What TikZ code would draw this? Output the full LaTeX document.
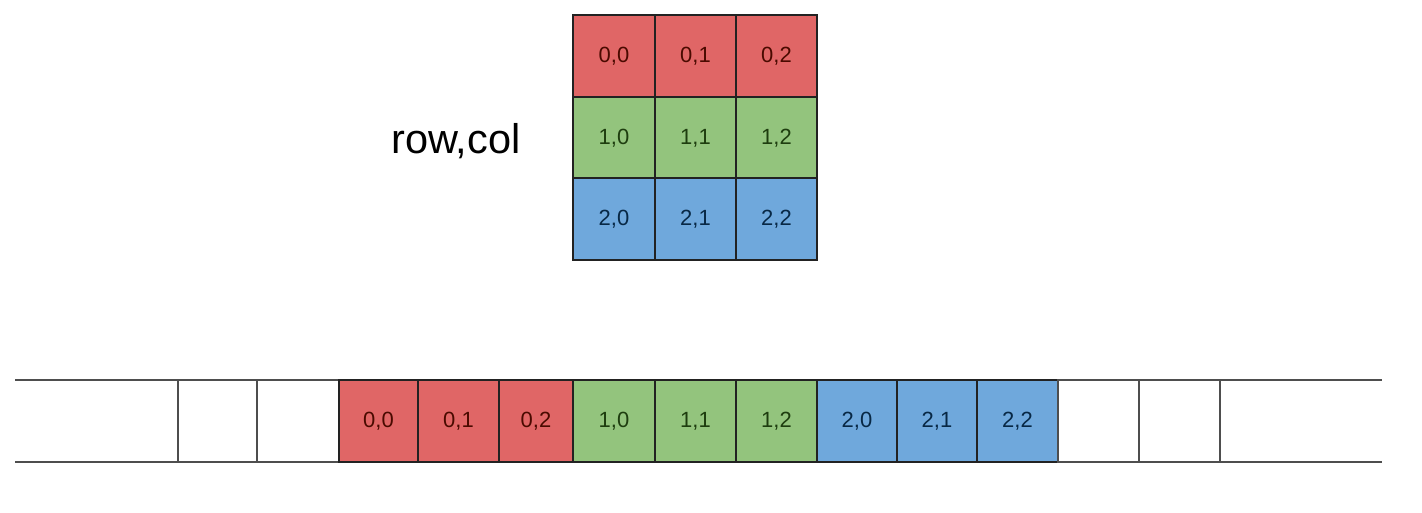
\documentclass[tikz,border=0pt]{standalone}
\usepackage{fontspec}
\setmainfont{Liberation Sans}
\definecolor{cred}{HTML}{E06666}
\definecolor{cgreen}{HTML}{93C47D}
\definecolor{cblue}{HTML}{6FA8DC}
\definecolor{tred}{HTML}{4A0A00}
\definecolor{tgreen}{HTML}{1E3D0F}
\definecolor{tblue}{HTML}{082845}
\definecolor{edge}{HTML}{222222}
\begin{document}
\begin{tikzpicture}[x=1pt,y=-1pt,
  cell/.style={draw=edge,line width=2pt,minimum height=82pt,inner sep=0pt,font=\fontsize{22}{25}\selectfont},
  rcell/.style={cell,fill=cred,text=tred},
  gcell/.style={cell,fill=cgreen,text=tgreen},
  bcell/.style={cell,fill=cblue,text=tblue},
  wcell/.style={cell,draw=edge!80,fill=white},
  rail/.style={draw=edge!80,line width=2.5pt}]
\useasboundingbox (0,0) rectangle (1422,513);
% top grid
\foreach \c/\x/\w in {0/614/81.5,1/695.5/81.5,2/776.5/81}{
  \node[rcell,minimum width=\w pt] (g0\c) at (\x,56) {0,\c};
  \node[gcell,minimum width=\w pt] (g1\c) at (\x,138) {1,\c};
  \node[bcell,minimum width=\w pt] (g2\c) at (\x,219.5) {2,\c};
}
\node[font=\fontsize{41.5}{48}\selectfont,anchor=base west,inner sep=0pt] (lbl) at (391,154) {row,col};
% strip
\coordinate (tl) at (15,380);
\coordinate (bl) at (15,462);
\coordinate (tr) at (1382,380);
\coordinate (br) at (1382,462);
\draw[rail] (tl) -- (tr);
\draw[rail] (bl) -- (br);
\node[wcell,minimum width=79pt] (w1) at (217.5,421) {};
\node[wcell,minimum width=82pt] (w2) at (298,421) {};
\node[rcell,minimum width=79pt] (s00) at (378.5,421) {0,0};
\node[rcell,minimum width=81pt] (s01) at (458.5,421) {0,1};
\node[rcell,minimum width=74pt] (s02) at (536,421) {0,2};
\node[gcell,minimum width=82pt] (s10) at (614,421) {1,0};
\node[gcell,minimum width=81pt] (s11) at (695.5,421) {1,1};
\node[gcell,minimum width=81pt] (s12) at (776.5,421) {1,2};
\node[bcell,minimum width=80pt] (s20) at (857,421) {2,0};
\node[bcell,minimum width=80pt] (s21) at (937,421) {2,1};
\node[bcell,minimum width=81pt] (s22) at (1017.5,421) {2,2};
\node[wcell,minimum width=81pt] (w3) at (1098.5,421) {};
\node[wcell,minimum width=81pt] (w4) at (1179.5,421) {};
\end{tikzpicture}
\end{document}
